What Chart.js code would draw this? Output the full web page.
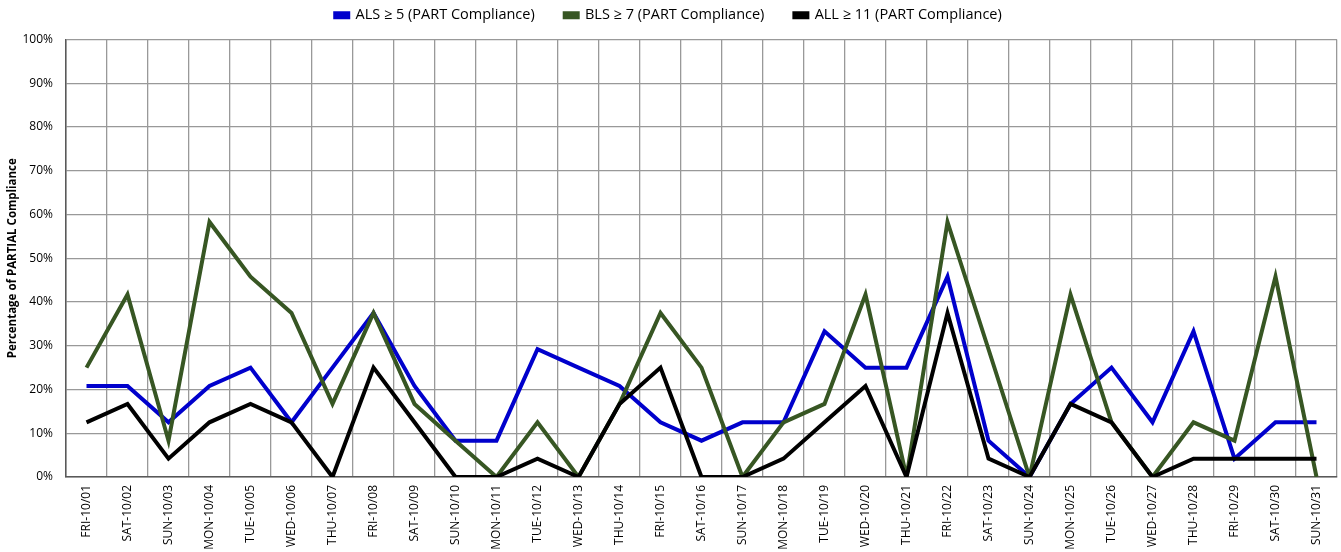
<!DOCTYPE html>
<html>
<head>
<meta charset="utf-8">
<script src="https://cdn.jsdelivr.net/npm/chart.js@4/dist/chart.umd.min.js"></script>
<style>
  html, body { margin: 0; padding: 0; background: #fff; }
</style>
</head>
<body>
<canvas id="complianceChart" width="1341" height="552"></canvas>
<script>
const days = [
  "FRI-10/01", "SAT-10/02", "SUN-10/03", "MON-10/04", "TUE-10/05", "WED-10/06", "THU-10/07",
  "FRI-10/08", "SAT-10/09", "SUN-10/10", "MON-10/11", "TUE-10/12", "WED-10/13", "THU-10/14",
  "FRI-10/15", "SAT-10/16", "SUN-10/17", "MON-10/18", "TUE-10/19", "WED-10/20", "THU-10/21",
  "FRI-10/22", "SAT-10/23", "SUN-10/24", "MON-10/25", "TUE-10/26", "WED-10/27", "THU-10/28",
  "FRI-10/29", "SAT-10/30", "SUN-10/31",
];

// percent values
const alsValues = [
  20.8, 20.8, 12.5, 20.8, 25, 12.5, 25, 37.5, 20.8, 8.3, 8.3, 29.2, 25, 20.8, 12.5, 8.3,
  12.5, 12.5, 33.3, 25, 25, 45.8, 8.3, 0, 16.7, 25, 12.5, 33.3, 4.2, 12.5, 12.5,
];
const blsValues = [
  25, 41.7, 8.3, 58.3, 45.8, 37.5, 16.7, 37.5, 16.7, 8.3, 0, 12.5, 0, 16.7, 37.5, 25,
  0, 12.5, 16.7, 41.7, 0, 58.3, 29.2, 0, 41.7, 12.5, 0, 12.5, 8.3, 45.8, 0,
];
const allValues = [
  12.5, 16.7, 4.2, 12.5, 16.7, 12.5, 0, 25, 12.5, 0, 0, 4.2, 0, 16.7, 25, 0,
  0, 4.2, 12.5, 20.8, 0, 37.5, 4.2, 0, 16.7, 12.5, 0, 4.2, 4.2, 4.2, 4.2,
];

const yTicks = [0, 10, 20, 30, 40, 50, 60, 70, 80, 90, 100];

const font = "'Open Sans', Lato, sans-serif";

function line(label, data, color, order) {
  return {
    label: label,
    data: data,
    borderColor: color,
    backgroundColor: color,
    borderWidth: 4,
    pointRadius: 0,
    tension: 0,
    order: order,
  };
}

// legend sits higher than chart.js puts it, keep the plot top where it was
const legendSpacer = {
  id: "legendSpacer",
  afterInit(chart) {
    const lg = chart.legend;
    if (!lg) return;
    const fit = lg.fit;
    lg.fit = function () {
      fit.call(this);
      this.height += 7;
    };
  },
};

const ctx = document.getElementById("complianceChart").getContext("2d");
const chart = new Chart(ctx, {
  type: "line",
  data: {
    labels: days,
    datasets: [
      line("ALS \u2265 5 (PART Compliance)", alsValues, "#0000CC", 3),
      line("BLS \u2265 7 (PART Compliance)", blsValues, "#375623", 2),
      line("ALL \u2265 11 (PART Compliance)", allValues, "#000000", 1),
    ],
  },
  plugins: [legendSpacer],
  options: {
    responsive: false,
    animation: false,
    layout: { padding: { top: -22, right: 4, left: 0, bottom: 0 } },
    plugins: {
      legend: {
        display: true,
        position: "top",
        labels: {
          boxWidth: 13,
          boxHeight: 4,
          padding: 30,
          color: "#000",
          font: { family: font, size: 14.5 },
          sort: (a, b) => a.datasetIndex - b.datasetIndex,
        },
      },
      tooltip: { enabled: false },
    },
    scales: {
      x: {
        offset: true,
        grid: { offset: true, color: "#999999", lineWidth: 1.3, drawTicks: false },
        border: { color: "#595959", width: 1.5 },
        ticks: {
          autoSkip: false,
          maxRotation: 90,
          minRotation: 90,
          padding: 8,
          color: "#000",
          font: { family: font, size: 12 },
        },
        afterFit: (scale) => { scale.height = 75; },
      },
      y: {
        min: 0,
        max: 100,
        afterBuildTicks: (scale) => {
          scale.ticks = yTicks.map((v) => ({ value: v }));
        },
        grid: { color: "#999999", lineWidth: 1.3, drawTicks: false },
        border: { color: "#595959", width: 1.5 },
        ticks: {
          padding: 13,
          color: "#000",
          font: { family: font, size: 12 },
          callback: (v) => v + "%",
        },
        title: {
          display: true,
          text: "Percentage of PARTIAL Compliance",
          color: "#000",
          font: { family: font, size: 11.5, weight: "bold" },
          padding: { top: 6, bottom: 0 },
        },
        afterFit: (scale) => { scale.width = 66; },
      },
    },
  },
});
</script>
</body>
</html>
